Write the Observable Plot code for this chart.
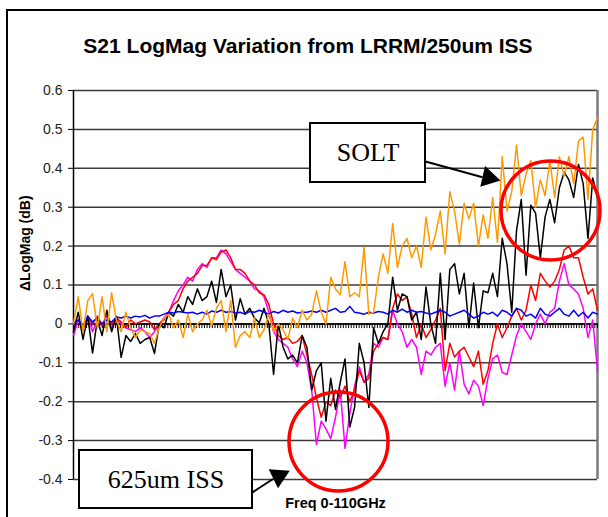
<!DOCTYPE html>
<html><head><meta charset="utf-8">
<script src="https://cdn.jsdelivr.net/npm/d3@7"></script>
<script src="https://cdn.jsdelivr.net/npm/@observablehq/plot@0.6"></script>
<style>
html,body{margin:0;padding:0;background:#fff;overflow:hidden;}
#wrap{position:relative;width:608px;height:517px;overflow:hidden;background:#fff;}
#border{position:absolute;left:6px;top:9px;width:700px;height:700px;border-left:2px solid #000;border-top:2px solid #000;z-index:2;pointer-events:none;}
#title{height:70px;box-sizing:border-box;padding-top:35px;width:616px;text-align:center;font:bold 21px "Liberation Sans",Arial,sans-serif;line-height:21px;color:#000;}
#chart svg{display:block;}
</style>
</head><body>
<div id="wrap"><div id="border"></div><div id="title">S21 LogMag Variation from LRRM/250um ISS</div><div id="chart"></div></div>
<script>
const freqGHz = d3.range(0, 111);
const yTicks = [-0.4,-0.3,-0.2,-0.1,0,0.1,0.2,0.3,0.4,0.5,0.6];
const yTickLabels = ["-0.4","-0.3","-0.2","-0.1","0","0.1","0.2","0.3","0.4","0.5","0.6"];

const blackVals = [-0.02,0.03,-0.04,0.02,-0.075,0.01,-0.03,0.035,-0.02,0.02,
 -0.086,-0.03,-0.045,-0.025,-0.05,-0.04,-0.035,-0.076,0.0,-0.01,
 0.03,0.02,0.05,0.03,0.07,0.05,0.09,0.06,0.07,0.11,
 0.055,0.14,0.07,0.10,0.01,0.065,0.025,0.04,0.015,0.003,
 0.04,0.0,-0.13,0.0,-0.06,-0.09,-0.08,-0.1,-0.03,-0.06,
 -0.17,-0.12,-0.10,-0.25,-0.14,-0.22,-0.15,-0.09,-0.265,-0.215,
 -0.05,-0.1,-0.215,-0.01,-0.05,-0.02,0.0,0.12,0.035,0.077,
 0.07,0.01,0.03,-0.04,0.095,0.0,-0.05,0.13,-0.04,0.14,
 0.155,0.077,0.13,-0.01,0.105,-0.01,0.085,0.08,0.13,0.07,
 0.22,0.155,0.03,0.24,0.32,0.125,0.305,0.285,0.17,0.275,
 0.32,0.26,0.35,0.39,0.37,0.325,0.41,0.36,0.22,0.375,
 0.325];
const orangeVals = [0.0,0.07,-0.02,0.06,0.078,-0.01,0.07,-0.02,0.08,0.01,
 -0.02,0.03,-0.01,-0.035,-0.015,-0.02,-0.025,-0.05,-0.01,0.015,
 0.025,-0.01,0.01,-0.035,0.025,-0.02,0.0,0.01,0.035,-0.005,
 0.04,0.06,-0.02,0.06,-0.06,-0.03,-0.02,-0.035,0.015,-0.035,
 -0.015,0.025,-0.02,0.0,-0.015,-0.04,0.015,-0.01,0.035,0.01,
 0.025,0.085,0.03,0.0,0.12,0.09,0.075,0.16,0.07,0.08,
 0.07,0.197,0.025,0.03,0.12,0.18,0.13,0.258,0.145,0.2,
 0.22,0.17,0.2,0.145,0.275,0.19,0.23,0.29,0.18,0.34,
 0.29,0.205,0.31,0.27,0.31,0.2,0.28,0.22,0.325,0.21,
 0.43,0.29,0.34,0.46,0.33,0.385,0.42,0.3,0.37,0.33,
 0.42,0.325,0.43,0.38,0.43,0.36,0.47,0.48,0.32,0.5,
 0.53];
const redVals = [0.0,0.01,-0.01,0.015,0.0,0.02,-0.005,0.01,0.0,0.015,
 0.005,-0.01,0.01,0.0,0.005,0.01,0.005,-0.015,0.0,0.01,
 0.03,0.05,0.06,0.09,0.11,0.12,0.13,0.15,0.15,0.17,
 0.165,0.185,0.19,0.17,0.14,0.14,0.13,0.11,0.1,0.08,
 0.075,0.05,0.0,-0.03,-0.04,-0.035,-0.05,-0.045,-0.03,-0.08,
 -0.13,-0.19,-0.24,-0.2,-0.21,-0.17,-0.19,-0.16,-0.2,-0.17,
 -0.12,-0.15,-0.14,-0.07,-0.05,-0.035,-0.04,0.04,0.077,0.06,
 0.07,0.025,-0.035,0.0,-0.035,-0.015,0.01,0.04,-0.12,-0.05,
 -0.085,-0.07,-0.06,-0.085,-0.11,-0.07,-0.155,-0.12,-0.05,0.0,
 -0.035,-0.01,0.02,0.04,0.01,0.035,0.1,0.06,0.13,0.11,
 0.095,0.11,0.14,0.19,0.2,0.17,0.17,0.12,0.077,0.09,
 0.035];
const magentaVals = [-0.03,0.01,-0.01,0.02,-0.02,0.01,0.0,0.02,-0.01,0.01,
 0.0,-0.01,-0.015,-0.02,-0.01,-0.02,-0.035,-0.02,0.0,0.015,
 0.03,0.06,0.085,0.1,0.12,0.11,0.14,0.155,0.145,0.17,
 0.17,0.19,0.18,0.16,0.14,0.13,0.12,0.11,0.09,0.085,
 0.07,0.03,-0.02,-0.04,-0.05,-0.06,-0.09,-0.11,-0.07,-0.1,
 -0.17,-0.31,-0.25,-0.27,-0.295,-0.24,-0.17,-0.32,-0.23,-0.16,
 -0.11,-0.15,-0.13,-0.05,-0.06,-0.035,-0.04,0.035,0.0,-0.02,
 -0.06,-0.04,-0.06,-0.13,-0.07,-0.08,-0.06,-0.05,-0.16,-0.1,
 -0.17,-0.07,-0.155,-0.18,-0.145,-0.16,-0.21,-0.14,-0.09,-0.08,
 -0.125,-0.13,-0.08,-0.03,0.0,-0.02,-0.04,0.0,0.025,0.0,
 0.03,0.04,0.11,0.155,0.1,0.09,0.077,0.04,-0.035,0.01,
 -0.12];
const blueVals = [0.0,0.01,-0.005,0.02,0.005,0.015,0.0,0.01,0.005,0.018,
 0.015,0.02,0.015,0.02,0.018,0.022,0.015,0.02,0.02,0.025,
 0.03,0.028,0.032,0.03,0.028,0.03,0.025,0.03,0.025,0.033,
 0.03,0.035,0.03,0.032,0.028,0.03,0.025,0.032,0.03,0.035,
 0.03,0.025,0.032,0.028,0.035,0.03,0.033,0.028,0.03,0.03,
 0.033,0.03,0.035,0.03,0.035,0.04,0.03,0.032,0.045,0.03,
 0.028,0.025,0.03,0.028,0.032,0.03,0.025,0.035,0.03,0.038,
 0.03,0.035,0.03,0.032,0.028,0.025,0.03,0.035,0.03,0.02,
 0.025,0.03,0.035,0.025,0.015,0.02,0.03,0.025,0.03,0.02,
 0.035,0.03,0.02,0.04,0.035,0.02,0.025,0.015,0.04,0.025,
 0.02,0.03,0.04,0.025,0.02,0.035,0.02,0.03,0.015,0.03,
 0.025];

const seriesOrder = [
  {name:"magenta", color:"#ff00ff", values: magentaVals},
  {name:"red", color:"#ff0000", values: redVals},
  {name:"black", color:"#000000", values: blackVals},
  {name:"blue", color:"#0000ff", values: blueVals},
  {name:"orange", color:"#ff9900", values: orangeVals}
];

// annotations (data coordinates: GHz, dB)
const boxes = [
  {label:"SOLT", x1:49.75, x2:73.89, y1:0.3635, y2:0.5152},
  {label:"625um ISS", x1:1.26, x2:37.58, y1:-0.4746, y2:-0.3254}
];
const arrows = [
  {x1:73.89, y1:0.4177, x2:85.86, y2:0.3771, hx:87.14, hy:0.3756, angle:103},
  {x1:37.58, y1:-0.4329, x2:41.88, y2:-0.3987, hx:43.10, hy:-0.3915, angle:64}
];
const circles = [
  {x:100.13, y:0.2915},
  {x:55.63, y:-0.3023}
];

const zeroTicks = d3.range(0, 201).map(i => i * 0.55);

const lineMarks = seriesOrder.map(s =>
  Plot.line(freqGHz.map((f, i) => ({f, v: s.values[i]})), {x:"f", y:"v", stroke: s.color, strokeWidth: 1.5, strokeLinejoin:"round"})
);

const chart = Plot.plot({
  width: 608, height: 447,
  marginLeft: 73, marginRight: 11, marginTop: 20, marginBottom: 38,
  x: {domain: [0, 110], axis: null},
  y: {domain: [-0.4, 0.6], axis: null},
  style: {fontFamily: "'Liberation Sans', Arial, sans-serif", background: "transparent", overflow: "visible", color: "#000"},
  marks: [
    Plot.ruleY(yTicks, {stroke: "#3a3a3a", strokeWidth: 1.5}),
    Plot.ruleX([110], {y1: -0.4, y2: 0.6, stroke: "#7a7a7a", strokeWidth: 2.5}),
    Plot.axisY({ticks: yTicks, tickSize: 5, tickPadding: 6, tickFormat: d => yTickLabels[yTicks.indexOf(d)], fontSize: 14, label: null, stroke: "#000", fill: "#222"}),
    Plot.ruleX([0], {y1: -0.4, y2: 0.6, stroke: "#000", strokeWidth: 1.5}),
    Plot.ruleY([0], {stroke: "#000", strokeWidth: 1.5}),
    Plot.ruleX(zeroTicks, {y1: 0, y2: -0.012, stroke: "#000", strokeWidth: 1}),
    ...lineMarks,
    Plot.rect(boxes, {x1:"x1", x2:"x2", y1:"y1", y2:"y2", fill:"white", stroke:"black", strokeWidth: 2}),
    Plot.text(boxes, {x: d => (d.x1 + d.x2) / 2, y: d => (d.y1 + d.y2) / 2, text: "label", fontFamily: "'Liberation Serif', 'Times New Roman', serif", fontSize: 26, fill: "#000"}),
    Plot.link(arrows, {x1:"x1", y1:"y1", x2:"x2", y2:"y2", stroke:"black", strokeWidth: 2}),
    Plot.dot(arrows, {x:"hx", y:"hy", symbol:"triangle", r: 7.85, fill:"black", stroke:"none", rotate: d => d.angle}),
    Plot.dot(circles, {x:"x", y:"y", r: 49.5, stroke:"#ff0000", strokeWidth: 3.5, fill:"none"}),
    Plot.text(["ΔLogMag (dB)"], {frameAnchor: "left", dx: -48, dy: 6, rotate: -90, text: d => d, fontWeight: "bold", fontSize: 14, fill: "#000"}),
    Plot.text(["Freq 0-110GHz"], {frameAnchor: "bottom", dy: 28, text: d => d, fontWeight: "bold", fontSize: 14.5, fill: "#000"})
  ]
});
document.getElementById("chart").appendChild(chart);
</script>
</body></html>
